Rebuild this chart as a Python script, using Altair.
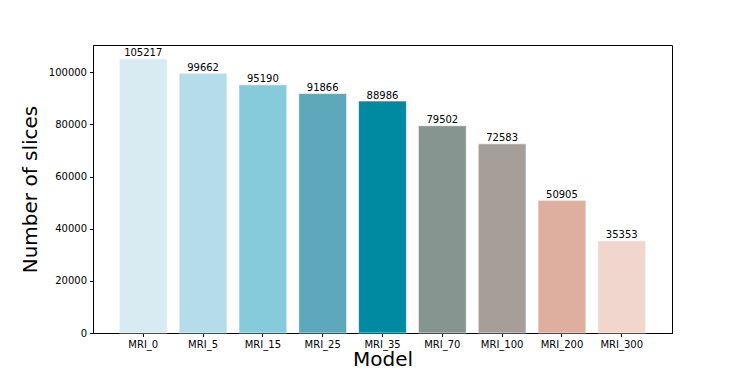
import altair as alt
import pandas as pd

models = ["MRI_0", "MRI_5", "MRI_15", "MRI_25", "MRI_35", "MRI_70", "MRI_100", "MRI_200", "MRI_300"]
counts = [105217, 99662, 95190, 91866, 88986, 79502, 72583, 50905, 35353]
colors = ["#d8ebf2", "#b4dde9", "#86cbdb", "#5ea8bc", "#008aa1", "#879590", "#a69e98", "#deaf9f", "#f0d6cd"]
y_ticks = [0, 20000, 40000, 60000, 80000, 100000]

df = pd.DataFrame({"Model": models, "Count": counts})

FONT = "DejaVu Sans"

x_enc = alt.X(
    "Model:N",
    sort=models,
    scale=alt.Scale(paddingInner=0.2, paddingOuter=0.44),
    axis=alt.Axis(
        title="Model", titleFontSize=20, titleFont=FONT, titleFontWeight="normal",
        titleColor="black", titlePadding=0,
        labelFont=FONT, labelFontSize=10, labelColor="black", labelAngle=0, labelPadding=3,
        tickColor="black", tickSize=3.5, domainColor="black", domainWidth=1,
    ),
)
y_enc = alt.Y(
    "Count:Q",
    scale=alt.Scale(domain=[0, 110478], nice=False, zero=True),
    axis=alt.Axis(
        title="Number of slices", titleFontSize=20, titleFont=FONT, titleFontWeight="normal",
        titleColor="black", titlePadding=8,
        values=y_ticks, format="d", grid=False,
        labelFont=FONT, labelFontSize=10, labelColor="black", labelPadding=3,
        tickColor="black", tickSize=3.5, domainColor="black", domainWidth=1,
    ),
)

bars = alt.Chart(df).mark_bar(stroke="white", strokeWidth=1, strokeOpacity=0.6).encode(
    x=x_enc,
    y=y_enc,
    color=alt.Color("Model:N", sort=models, scale=alt.Scale(domain=models, range=colors), legend=None),
)

labels = alt.Chart(df).mark_text(
    font=FONT, fontSize=10, color="black", baseline="bottom", dy=-0.5
).encode(
    x=alt.X("Model:N", sort=models),
    y=alt.Y("Count:Q"),
    text=alt.Text("Count:Q", format="d"),
)

chart = (
    alt.layer(bars, labels)
    .properties(
        width=579,
        height=288,
        padding={"left": 85, "top": 37, "right": 60, "bottom": 33},
        autosize=alt.AutoSizeParams(type="none"),
        background="white",
    )
    .configure_view(stroke="black", strokeWidth=1)
)

chart.save("out.html", embed_options={"renderer": "svg", "actions": False})
